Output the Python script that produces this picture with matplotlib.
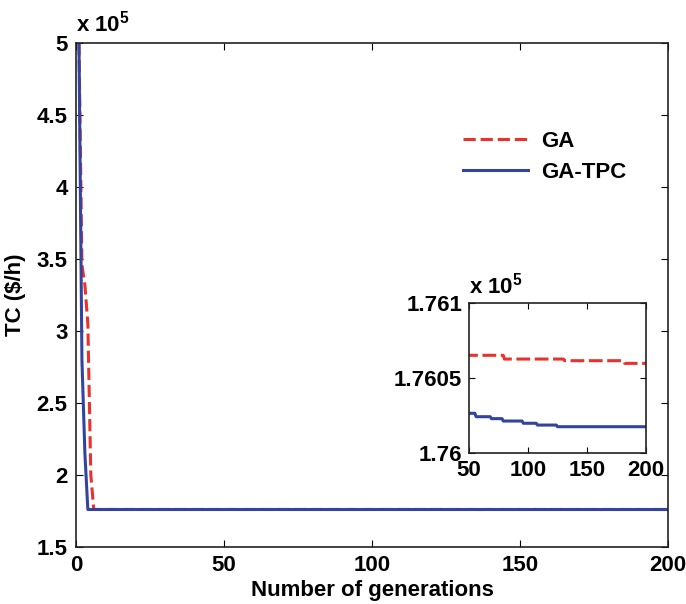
import numpy as np
import matplotlib
matplotlib.use("Agg")
import matplotlib.pyplot as plt
from matplotlib.ticker import FuncFormatter

plt.rcParams['font.family'] = ['Liberation Sans', 'DejaVu Sans']
plt.rcParams['font.weight'] = 'bold'
plt.rcParams['mathtext.fontset'] = 'custom'
plt.rcParams['mathtext.rm'] = 'Liberation Sans:bold'
plt.rcParams['mathtext.bf'] = 'Liberation Sans:bold'
plt.rcParams['mathtext.it'] = 'Liberation Sans:bold'
plt.rcParams['mathtext.default'] = 'rm'

# ---- data (TC in $/h, best-so-far values at generations where they change) ----
ga_gen = [1, 2, 3, 4, 5, 6, 80, 131, 182]
ga_val = [500000, 346000, 332000, 305000, 200000, 176065.2, 176062.7, 176061.6, 176059.8]

tpc_gen = [1, 2, 3, 4, 56, 69, 79, 96, 108, 125]
tpc_val = [500000, 280000, 215000, 176026.4, 176024.1, 176022.8, 176021.2, 176019.7, 176018.5, 176017.4]

n_generations = 200
main_xticks = [0, 50, 100, 150, 200]
main_yticks = [150000, 200000, 250000, 300000, 350000, 400000, 450000, 500000]
inset_xticks = [50, 100, 150, 200]
inset_yticks = [176000, 176050, 176100]
labels = ['GA', 'GA-TPC']

red = '#e8322b'
blue = '#3244a0'

def hold(gens, vals, n):
    g = np.arange(1, n + 1)
    idx = np.searchsorted(np.array(gens), g, side='right') - 1
    return g, np.array(vals, dtype=float)[idx]

g, ga = hold(ga_gen, ga_val, n_generations)
_, tpc = hold(tpc_gen, tpc_val, n_generations)

fmt = FuncFormatter(lambda v, p: f'{v/1e5:g}')
FS = 16

fig = plt.figure(figsize=(6.86, 6.04), dpi=100)
ax = fig.add_axes([0.1108, 0.0944, 0.8630, 0.8344])
l1, = ax.plot(g, ga, color=red, lw=2.2, dashes=(4, 1.6), label=labels[0])
l2, = ax.plot(g, tpc, color=blue, lw=2.2, label=labels[1])
ax.set_xlim(0, 200)
ax.set_ylim(150000, 500000)
ax.set_xticks(main_xticks)
ax.set_yticks(main_yticks)
ax.yaxis.set_major_formatter(fmt)
ax.tick_params(direction='in', length=5, width=0.8, top=True, right=True,
               labelsize=FS, pad=6)
for s in ax.spines.values():
    s.set_linewidth(1.2)
    s.set_color('#222222')
ax.set_xlabel('Number of generations', fontsize=FS, fontweight='bold', labelpad=3)
ax.set_ylabel(r'TC (\$/h)', fontsize=FS, fontweight='bold', labelpad=8)
ax.text(0.0, 1.012, r'x 10$^{5}$', transform=ax.transAxes, fontsize=FS,
        fontweight='bold', ha='left', va='bottom')

leg = ax.legend(handles=[l1, l2], loc='upper left', bbox_to_anchor=(0.62, 0.865),
                frameon=False, fontsize=FS, handlelength=2.9, handletextpad=0.6,
                labelspacing=0.45)

# ---- inset ----
axi = fig.add_axes([0.6837, 0.2505, 0.2580, 0.2473])
axi.plot(g, ga, color=red, lw=2.2, dashes=(4.5, 1.5))
axi.plot(g, tpc, color=blue, lw=2.2)
axi.set_xlim(50, 200)
axi.set_ylim(176000, 176100)
axi.set_xticks(inset_xticks)
axi.set_yticks(inset_yticks)
axi.yaxis.set_major_formatter(fmt)
axi.tick_params(direction='in', length=4, width=0.8, top=True, right=True,
                labelsize=FS, pad=5)
for s in axi.spines.values():
    s.set_linewidth(1.2)
    s.set_color('#222222')
axi.text(0.0, 1.03, r'x 10$^{5}$', transform=axi.transAxes, fontsize=FS,
         fontweight='bold', ha='left', va='bottom')

fig.savefig('out.png', dpi=100)
